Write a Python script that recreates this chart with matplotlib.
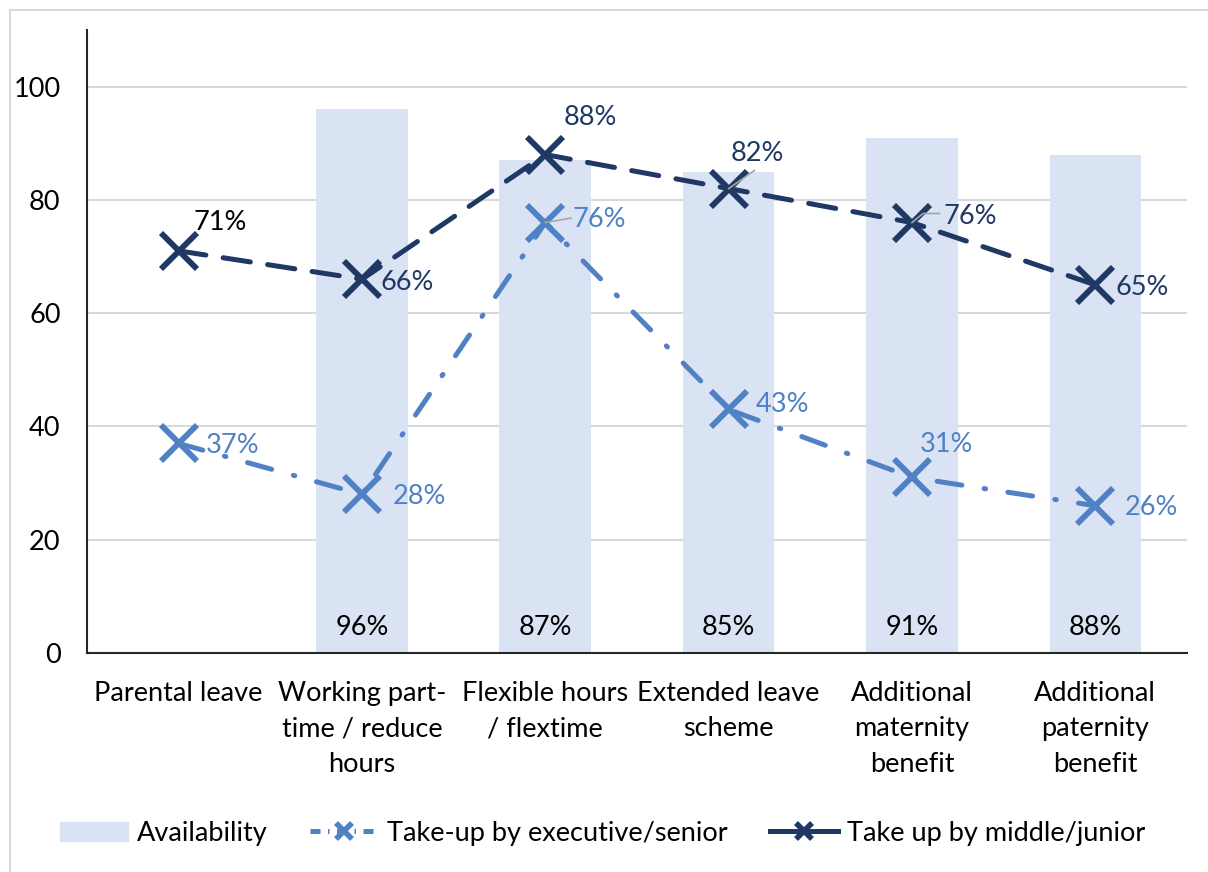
import numpy as np
import matplotlib
matplotlib.use("Agg")
from matplotlib import pyplot as plt
from matplotlib.patches import Rectangle
from matplotlib.lines import Line2D

plt.rcParams['font.family'] = ['Lato', 'DejaVu Sans']

categories = ["Parental leave", "Working part-\ntime / reduce\nhours", "Flexible hours\n/ flextime",
              "Extended leave\nscheme", "Additional\nmaternity\nbenefit", "Additional\npaternity\nbenefit"]
availability = [np.nan, 96, 87, 85, 91, 88]
senior = [37, 28, 76, 43, 31, 26]
junior = [71, 66, 88, 82, 76, 65]

bar_col = '#DAE3F3'
light = '#4F81C4'
navy = '#1F3864'

fig = plt.figure(figsize=(12.08, 8.72), dpi=100)
ax = fig.add_axes([87/1208, 1-653/872, 1100/1208, 623/872])

# chart border
fig.patches.append(Rectangle((10/1208, -0.01), 1.02, 1-10/872+0.01, transform=fig.transFigure,
                             fill=False, edgecolor='#D9D9D9', linewidth=1.5))

x = np.arange(len(categories))
ax.bar(x, availability, width=0.5, color=bar_col, zorder=2, label='Availability')
ax.plot(x, senior, color=light, lw=3.6, dashes=(5, 4.5, 0.3, 4.5), dash_capstyle='round',
        marker='x', markersize=26, markeredgewidth=4.2, zorder=3,
        label='Take-up by executive/senior')
ax.plot(x, junior, color=navy, lw=3.6, dashes=(5.5, 3.5), dash_capstyle='round',
        marker='x', markersize=26, markeredgewidth=4.2, zorder=4,
        label='Take up by middle/junior')

fs = 19.5
# bar labels
for i, v in enumerate(availability):
    if not np.isnan(v):
        ax.text(i, 4.5, f"{v:.0f}%", ha='center', va='center', fontsize=fs, color='black', zorder=5)

# junior labels (offsets in data units)
jr_off = [(0.08, 5.0), (0.1, -0.5), (0.1, 6.5), (0.01, 6.2), (0.17, 1.0), (0.11, -0.4)]
for i, (v, (dx, dy)) in enumerate(zip(junior, jr_off)):
    ax.text(i + dx, v + dy, f"{v}%", ha='left', va='center', fontsize=fs,
            color=navy if i else 'black', zorder=6)
# leader lines for crowded labels
ax.plot([3, 3.14], [82, 85.2], color='#A6A6A6', lw=1.2, zorder=5)
ax.plot([4, 4.06, 4.15], [76, 77.6, 77.6], color='#A6A6A6', lw=1.2, zorder=5)
ax.plot([2, 2.14], [76, 76.8], color='#A6A6A6', lw=1.2, zorder=5)

sr_off = [(0.15, -0.3), (0.17, -0.3), (0.15, 0.5), (0.15, 0.8), (0.04, 5.8), (0.16, -0.3)]
for i, (v, (dx, dy)) in enumerate(zip(senior, sr_off)):
    ax.text(i + dx, v + dy, f"{v}%", ha='left', va='center', fontsize=fs, color=light, zorder=6)

ax.set_xlim(-0.5, 5.5)
ax.set_ylim(0, 110)
ax.set_yticks([0, 20, 40, 60, 80, 100])
ax.set_xticks(x)
ax.set_xticklabels(categories, fontsize=fs, linespacing=1.52)
ax.tick_params(axis='both', length=0, labelsize=fs, colors='black')
ax.tick_params(axis='y', pad=19)
ax.tick_params(axis='x', pad=20)
ax.grid(axis='y', color='#D9D9D9', lw=1.5, zorder=0)
ax.set_axisbelow(True)
for s in ['top', 'right']:
    ax.spines[s].set_visible(False)
ax.spines['left'].set_color('#262626')
ax.spines['bottom'].set_color('#262626')
ax.spines['left'].set_linewidth(1.5)
ax.spines['bottom'].set_linewidth(1.5)

handles = [Rectangle((0, 0), 1, 1, color=bar_col),
           Line2D([], [], color=light, lw=3.6, dashes=(2, 1.5, 0.3, 1.5), marker='x', markersize=12, markeredgewidth=4),
           Line2D([], [], color=navy, lw=3.6, marker='x', markersize=12, markeredgewidth=4)]
labels = ['Availability', 'Take-up by executive/senior', 'Take up by middle/junior']
fig.legend(handles, labels, loc='center', bbox_to_anchor=(0.499, 1-833/872), ncol=3,
           frameon=False, fontsize=fs, handlelength=2.5, columnspacing=1.55, handletextpad=0.35)

fig.savefig('out.png', dpi=100)
